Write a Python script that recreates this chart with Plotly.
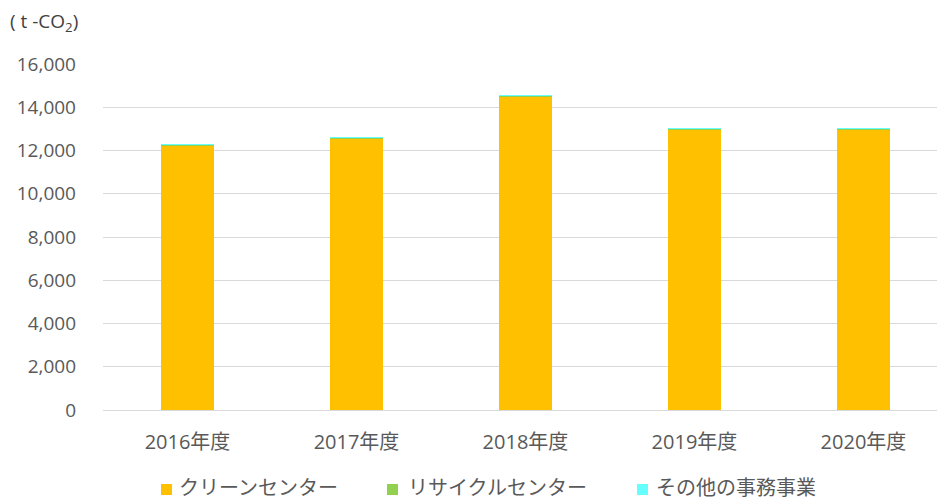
import plotly.graph_objects as go

years = ["2016年度", "2017年度", "2018年度", "2019年度", "2020年度"]
clean_center = [12230, 12550, 14490, 12980, 12990]
recycle_center = [45, 45, 45, 45, 45]
other_office = [3, 3, 3, 3, 3]
y_ticks = [0, 2000, 4000, 6000, 8000, 10000, 12000, 14000, 16000]

series_names = ["クリーンセンター", "リサイクルセンター", "その他の事務事業"]
series_values = [clean_center, recycle_center, other_office]
series_colors = ["#FFC000", "#92D050", "#66FFFF"]

W, H = 937, 503
ML, MR, MT, MB = 103, 0, 64, 93
PW = W - ML - MR
PH = H - MT - MB


def px_x(px):
    return (px - ML) / PW


def px_y(py):
    return (H - MB - py) / PH


fig = go.Figure()
for name, vals, color in zip(series_names, series_values, series_colors):
    fig.add_trace(go.Bar(
        x=list(range(len(years))), y=vals, name=name,
        marker=dict(color=color, line=dict(width=0)),
        width=0.3136, showlegend=False,
    ))

font_family = "Open Sans, Noto Sans CJK JP, sans-serif"

# legend drawn manually to match the reference spacing
legend_swatch_left = [161, 387, 637]
legend_text_left = [178, 407, 655]
shapes = []
annotations = []
for name, color, sx, tx in zip(series_names, series_colors, legend_swatch_left, legend_text_left):
    shapes.append(dict(
        type="rect", xref="paper", yref="paper",
        x0=px_x(sx), x1=px_x(sx + 11), y0=px_y(495), y1=px_y(484),
        fillcolor=color, line=dict(width=0),
    ))
    annotations.append(dict(
        text=name, x=px_x(tx), y=px_y(502), xref="paper", yref="paper",
        showarrow=False, xanchor="left", yanchor="bottom",
        font=dict(size=20, color="#595959", family="Noto Sans CJK JP"),
        borderpad=0,
    ))

annotations.append(dict(
    text="( t -CO<sub>2</sub>)", x=px_x(8), y=px_y(22), xref="paper", yref="paper",
    showarrow=False, xanchor="left", yanchor="middle",
    font=dict(size=19, color="#404040"),
))

fig.update_layout(
    barmode="stack",
    width=W, height=H,
    margin=dict(l=ML, r=MR, t=MT, b=MB, autoexpand=False),
    paper_bgcolor="white", plot_bgcolor="white",
    font=dict(family=font_family, color="#595959", size=19),
    showlegend=False,
    xaxis=dict(
        tickmode="array", tickvals=list(range(len(years))), ticktext=years,
        range=[-0.5, 4.435], showgrid=False, zeroline=False,
        showline=False, ticks="", ticklabelstandoff=18,
        tickfont=dict(size=20, color="#595959"),
    ),
    yaxis=dict(
        range=[0, 16000], tickvals=y_ticks,
        tickformat=",d", showgrid=True, gridcolor="#D9D9D9", gridwidth=1,
        zeroline=True, zerolinecolor="#D9D9D9", zerolinewidth=1,
        showline=False, ticks="", ticklabelstandoff=26,
        tickfont=dict(size=19, color="#595959"),
    ),
    shapes=shapes,
    annotations=annotations,
)

fig.write_html("out.html")
